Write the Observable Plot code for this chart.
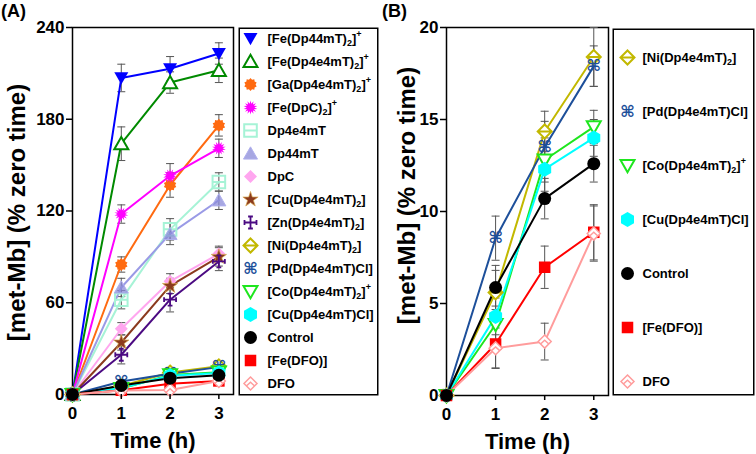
<!DOCTYPE html>
<html><head><meta charset="utf-8">
<script src="https://cdn.jsdelivr.net/npm/d3@7"></script>
<script src="https://cdn.jsdelivr.net/npm/@observablehq/plot@0.6"></script>
<style>
body{margin:0;background:#fff;}
#root{position:relative;width:756px;height:454px;overflow:hidden;font-family:"Liberation Sans",Arial,sans-serif;color:#000;}
.tag{position:absolute;font-size:18px;font-weight:bold;line-height:1;}
</style></head><body>
<div id="root"></div>
<script>
// ---------- data ----------
const hours = [0, 1, 2, 3];
const xTicks = [0, 1, 2, 3];
const yTicksA = [0, 60, 120, 180, 240];
const yTicksB = [0, 5, 10, 15, 20];

const seriesNames = ["Fe44","FeDp4e4","Ga","FeDpC","Dp4e4mT","Dp44mT","DpC","CuDp","Zn","Ni","Pd","Co","CuCl","Control","FeDFO","DFO"];
const legendLabels = ["[Fe(Dp44mT)_2]^+","[Fe(Dp4e4mT)_2]^+","[Ga(Dp4e4mT)_2]^+","[Fe(DpC)_2]^+","Dp4e4mT","Dp44mT","DpC","[Cu(Dp4e4mT)_2]","[Zn(Dp4e4mT)_2]","[Ni(Dp4e4mT)_2]","[Pd(Dp4e4mT)Cl]","[Co(Dp4e4mT)_2]^+","[Cu(Dp4e4mT)Cl]","Control","[Fe(DFO)]","DFO"];
const seriesColors = ["#0000ff","#008a00","#ff6a10","#ff00ff","#a6f3d6","#9a9ae6","#ffa6ef","#8b3a1e","#4b0a82","#c2b800","#1d4f9a","#1ee61e","#00ffff","#000000","#ff0000","#ff9c9c"];
const panelBNames = ["Ni","Pd","Co","CuCl","Control","FeDFO","DFO"];

// mean and error (% zero time) at 0,1,2,3 h
const fe44Mean = [0, 207, 213, 223],      fe44Err = [0, 9, 8, 7];
const feDp4e4Mean = [0, 164, 204, 212],   feDp4e4Err = [0, 11, 7, 8];
const gaMean = [0, 85, 137, 176],         gaErr = [0, 5, 8, 7];
const feDpCMean = [0, 118, 143, 161],     feDpCErr = [0, 6, 8, 6];
const dp4e4mTMean = [0, 62, 108, 139],    dp4e4mTErr = [0, 6, 7, 6];
const dp44mTMean = [0, 70, 105, 127],     dp44mTErr = [0, 6, 7, 6];
const dpcMean = [0, 43, 74, 92],          dpcErr = [0, 4, 5, 5];
const cuDpMean = [0, 34, 71, 90],         cuDpErr = [0, 5, 5, 6];
const znMean = [0, 26, 62, 87],           znErr = [0, 6, 8, 6];
const niMean = [0, 5.6, 14.35, 18.4],     niErr = [0, 1.2, 1.1, 1.6];
const pdMean = [0, 8.55, 13.5, 17.9],     pdErr = [0, 1.2, 1.4, 1.1];
const coMean = [0, 3.86, 12.8, 14.6],     coErr = [0, 1.0, 1.2, 0.9];
const cuClMean = [0, 4.3, 12.3, 14.0],    cuClErr = [0, 1.0, 1.2, 1.0];
const controlMean = [0, 5.87, 10.7, 12.6],controlErr = [0, 1.2, 1.1, 1.0];
const feDFOMean = [0, 2.8, 6.97, 8.87],   feDFOErr = [0, 1.3, 1.15, 1.5];
const dfoMean = [0, 2.57, 2.93, 8.8],     dfoErr = [0, 1.1, 1.0, 1.5];

const meanArrays = [fe44Mean, feDp4e4Mean, gaMean, feDpCMean, dp4e4mTMean, dp44mTMean, dpcMean, cuDpMean, znMean, niMean, pdMean, coMean, cuClMean, controlMean, feDFOMean, dfoMean];
const errArrays = [fe44Err, feDp4e4Err, gaErr, feDpCErr, dp4e4mTErr, dp44mTErr, dpcErr, cuDpErr, znErr, niErr, pdErr, coErr, cuClErr, controlErr, feDFOErr, dfoErr];

// ---------- symbols ----------
const rad = s => Math.sqrt(s / Math.PI);
const S = {
  cap: {draw(c, s){const r = rad(s); c.moveTo(-r, 0); c.lineTo(r, 0);}},
  triDown: {draw(c, s){const r = rad(s); c.moveTo(-r, -0.8*r); c.lineTo(r, -0.8*r); c.lineTo(0, 0.95*r); c.closePath();}},
  triUp: {draw(c, s){const r = rad(s); c.moveTo(-r, 0.8*r); c.lineTo(r, 0.8*r); c.lineTo(0, -0.95*r); c.closePath();}},
  burst(n, k){return {draw(c, s){const r = rad(s); for (let i = 0; i < 2*n; i++){const a = Math.PI*i/n, rr = i % 2 ? r*k : r; const px = rr*Math.sin(a), py = -rr*Math.cos(a); i ? c.lineTo(px, py) : c.moveTo(px, py);} c.closePath();}};},
  squareLine: {draw(c, s){const r = rad(s)*0.9; c.moveTo(-r, -r); c.lineTo(r, -r); c.lineTo(r, r); c.lineTo(-r, r); c.closePath(); c.moveTo(-r, 0); c.lineTo(r, 0);}},
  diamond: {draw(c, s){const r = rad(s); c.moveTo(0, -r); c.lineTo(r, 0); c.lineTo(0, r); c.lineTo(-r, 0); c.closePath();}},
  diamondLine: {draw(c, s){const r = rad(s); c.moveTo(0, -r); c.lineTo(r, 0); c.lineTo(0, r); c.lineTo(-r, 0); c.closePath(); c.moveTo(-r, 0); c.lineTo(r, 0);}},
  diamondChev: {draw(c, s){const r = rad(s); c.moveTo(0, -r); c.lineTo(r, 0); c.lineTo(0, r); c.lineTo(-r, 0); c.closePath(); c.moveTo(-0.55*r, 0.3*r); c.lineTo(0, -0.2*r); c.lineTo(0.55*r, 0.3*r);}},
  crossBars: {draw(c, s){const r = rad(s), b = 0.4*r; c.moveTo(-r, 0); c.lineTo(r, 0); c.moveTo(0, -r); c.lineTo(0, r);
    c.moveTo(-r, -b); c.lineTo(-r, b); c.moveTo(r, -b); c.lineTo(r, b); c.moveTo(-b, -r); c.lineTo(b, -r); c.moveTo(-b, r); c.lineTo(b, r);}}
};

const styles = {
  Fe44:    {symbol: S.triDown, r: 7, fill: "#0000ff"},
  FeDp4e4: {symbol: S.triUp, r: 7, fill: "white", stroke: "#008a00", sw: 2},
  Ga:      {symbol: S.burst(10, 0.78), r: 6.5, fill: "#ff6a10"},
  FeDpC:   {symbol: S.burst(14, 0.55), r: 7, fill: "#ff00ff"},
  Dp4e4mT: {symbol: S.squareLine, r: 7, fill: "none", stroke: "#a6f3d6", sw: 2},
  Dp44mT:  {symbol: S.triUp, r: 7, fill: "#8a8ad8", fo: 0.75, stroke: "#b0b0ee", sw: 1},
  DpC:     {symbol: S.diamond, r: 6.5, fill: "#ffa6ef"},
  CuDp:    {symbol: "star", r: 4.8, fill: "#8b3a1e", stroke: "#d8a850", sw: 0.7},
  Zn:      {symbol: S.crossBars, r: 6, fill: "none", stroke: "#4b0a82", sw: 1.8},
  Ni:      {symbol: S.diamondLine, r: 7, fill: "white", stroke: "#c2b800", sw: 2},
  Pd:      {glyph: "\u2318"},
  Co:      {symbol: S.triDown, r: 7, fill: "white", stroke: "#1ee61e", sw: 2},
  CuCl:    {symbol: "hexagon", r: 6.5, fill: "#00ffff"},
  Control: {symbol: "circle", r: 6.5, fill: "#000000"},
  FeDFO:   {symbol: "square", r: 6.5, fill: "#ff0000"},
  DFO:     {symbol: S.diamondChev, r: 6.5, fill: "white", stroke: "#ff9c9c", sw: 1.5}
};

const series = seriesNames.map((name, i) => ({
  name, label: legendLabels[i], color: seriesColors[i], mean: meanArrays[i], err: errArrays[i], ...styles[name]
}));

function markerMark(data, s, x, y) {
  if (s.glyph) return Plot.text(data, {x, y, text: () => s.glyph, fill: s.color, fontSize: 16, fontWeight: "bold", fontFamily: "DejaVu Sans"});
  return Plot.dot(data, {x, y, symbol: s.symbol, r: s.r, fill: s.fill, fillOpacity: s.fo ?? 1, stroke: s.stroke ?? "none", strokeWidth: s.sw ?? 1});
}

const FONT = '"Liberation Sans", Arial, sans-serif';

function panel(list, opts) {
  const rows = [];
  list.forEach(s => hours.forEach((t, i) => rows.push({t, v: s.mean[i], e: s.err[i], s: s.name})));
  const errRows = rows.filter(d => d.e > 0);
  const marks = [
    Plot.frame({stroke: "black", strokeWidth: 1.5}),
    Plot.ruleX(errRows, {x: "t", y1: d => d.v - d.e, y2: d => d.v + d.e, stroke: "#555", strokeWidth: 1}),
    Plot.dot(errRows, {x: "t", y: d => d.v + d.e, symbol: S.cap, r: 4, stroke: "#555", strokeWidth: 1, fill: "none"}),
    Plot.dot(errRows, {x: "t", y: d => d.v - d.e, symbol: S.cap, r: 4, stroke: "#555", strokeWidth: 1, fill: "none"})
  ];
  for (const s of list) marks.push(Plot.line(rows.filter(d => d.s === s.name), {x: "t", y: "v", stroke: s.color, strokeWidth: 2}));
  const order = list.filter(s => s.name !== "Control").concat(list.filter(s => s.name === "Control"));
  for (const s of order) marks.push(markerMark(rows.filter(d => d.s === s.name), s, "t", "v"));
  marks.push(
    Plot.axisY(opts.yTicks, {tickSize: 6, tickPadding: 2, fontSize: 17, fontWeight: "bold", stroke: "black", strokeWidth: 1.5, fill: "black", label: null}),
    Plot.axisX(xTicks, {tickSize: 5, tickPadding: 7, fontSize: 17, fontWeight: "bold", stroke: "black", strokeWidth: 1.5, fill: "black", label: null, tickFormat: d => String(d)}),
    Plot.text(["[met-Mb] (% zero time)"], {text: d => d, frameAnchor: "left", textAnchor: "middle", rotate: -90, dx: opts.labelDx, dy: opts.labelDy, fontSize: 24, fontWeight: "bold", fill: "black"}),
    Plot.text(["Time (h)"], {text: d => d, frameAnchor: "bottom", textAnchor: "middle", lineAnchor: "bottom", dy: 53, fontSize: 22, fontWeight: "bold", fill: "black"})
  );
  const svg = Plot.plot({
    width: opts.width, height: 454,
    marginLeft: opts.ml, marginRight: opts.mr, marginTop: 27, marginBottom: opts.mb,
    x: {domain: [0, 3.3]},
    y: {domain: opts.yDomain},
    style: {fontFamily: FONT, background: "transparent", overflow: "visible"},
    marks
  });
  svg.style.position = "absolute";
  svg.style.left = opts.left + "px";
  svg.style.top = "0px";
  return svg;
}

function richText(node) {
  d3.select(node).selectAll("text").each(function() {
    const str = this.textContent;
    if (!/[_^]/.test(str)) return;
    const el = d3.select(this);
    el.text(null);
    const parts = str.split(/([_^].)/).filter(p => p);
    let cur = 0;
    for (const p of parts) {
      let target = 0, txt = p, fs = null;
      if (p[0] === "_") { target = 3.5; txt = p[1]; fs = 9; }
      else if (p[0] === "^") { target = -6; txt = p[1]; fs = 9; }
      const ts = el.append("tspan").attr("dy", (target - cur) + "px").text(txt);
      if (fs) ts.attr("font-size", fs + "px");
      cur = target;
    }
  });
}

function legend(list, opts) {
  const rows = list.map(s => ({name: s.name, label: s.label}));
  const marks = [Plot.frame({stroke: "black", strokeWidth: 1.5, inset: 0.75})];
  for (const s of list) marks.push(markerMark(rows.filter(d => d.name === s.name), s, () => 0, "name"));
  marks.push(Plot.text(rows, {x: () => 1, y: "name", text: "label", textAnchor: "start", fontSize: 13, fontWeight: "bold", fill: "black"}));
  const svg = Plot.plot({
    width: opts.width, height: opts.height, margin: 0,
    x: {domain: [0, 1], range: opts.xRange, axis: null},
    y: {type: "point", domain: list.map(s => s.name), range: opts.yRange, padding: 0, axis: null},
    style: {fontFamily: FONT, background: "transparent", overflow: "visible"},
    marks
  });
  richText(svg);
  svg.style.position = "absolute";
  svg.style.left = opts.left + "px";
  svg.style.top = opts.top + "px";
  return svg;
}

const root = document.getElementById("root");
const listB = panelBNames.map(n => series.find(s => s.name === n));

root.appendChild(panel(series, {left: 0, width: 236, ml: 72, mr: 3, mb: 60, yDomain: [0, 240], yTicks: yTicksA, labelDx: -55, labelDy: 1.5}));
root.appendChild(legend(series, {left: 238, top: 27, width: 140, height: 368, xRange: [12, 29], yRange: [11, 356]}));
root.appendChild(panel(listB, {left: 378, width: 234, ml: 68, mr: 4, mb: 59, yDomain: [0, 20], yTicks: yTicksB, labelDx: -39, labelDy: -16}));
root.appendChild(legend(listB, {left: 612, top: 28, width: 142, height: 367, xRange: [15, 30], yRange: [27, 354]}));

const tA = document.createElement("div"); tA.className = "tag"; tA.textContent = "(A)"; tA.style.left = "1px"; tA.style.top = "2px"; root.appendChild(tA);
const tB = document.createElement("div"); tB.className = "tag"; tB.textContent = "(B)"; tB.style.left = "382px"; tB.style.top = "2px"; root.appendChild(tB);
</script>
</body></html>
